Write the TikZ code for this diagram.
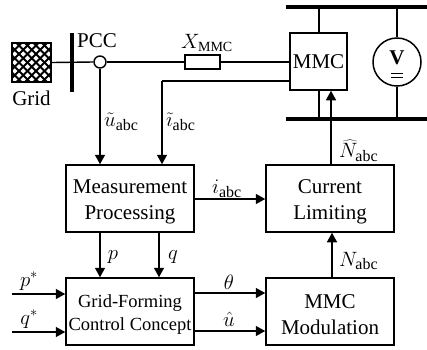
\documentclass[tikz,border=0pt]{standalone}
\usepackage{fontspec}
\setmainfont{Liberation Serif}
\usetikzlibrary{arrows.meta}
\newcommand{\sub}[1]{_{\textrm{\fontsize{16}{16}\selectfont #1}}}
\newcommand{\subsm}[1]{_{\textrm{\fontsize{14}{14}\selectfont #1}}}
\newcommand{\dn}{\rule{0pt}{20pt}}
\tikzset{
 x=1pt,y=-1pt,
 block/.style={draw,line width=1.5pt,inner sep=0pt,align=center,font=\fontsize{21}{26}\selectfont},
 wire/.style={line width=1.4pt},
 arr/.style={line width=1.4pt,-{Triangle[length=9.5pt,width=10pt]}},
 bar/.style={line width=4pt},
 lab/.style={inner sep=0pt,font=\fontsize{21}{22}\selectfont},
 mlab/.style={inner sep=0pt,font=\fontsize{22}{24}\selectfont},
}
\begin{document}
\begin{tikzpicture}
\useasboundingbox (0,0) rectangle (427,349);
% grid
\node[block,minimum width=39pt,minimum height=39pt] (grid) at (31.5,62.5) {};
\begin{scope}
\clip (12,43) rectangle (51,82);
\foreach \k in {-43,-34.5,...,60}{
  \draw[line width=2pt] (\k,43) -- ++(39,39);
  \draw[line width=2pt] (\k,82) -- ++(39,-39);
}
\end{scope}
\draw[line width=2.4pt] (12,43) rectangle (51,82);
\node[lab] (gridl) at (31.5,98) {Grid};
% buses
\coordinate (pcct) at (72,33); \coordinate (pccb) at (72,92);
\draw[bar] (pcct) -- (pccb);
\coordinate (tl) at (286,7); \coordinate (tr) at (427,7);
\coordinate (bl) at (286,119); \coordinate (br) at (427,119);
\draw[bar] (tl) -- (tr);
\draw[bar] (bl) -- (br);
\node[lab] (pccl) at (97,41) {PCC};
% elements
\node[draw,wire,fill=white,circle,minimum size=12pt,inner sep=0pt] (meas) at (100,62) {};
\node[draw,wire,minimum width=35pt,minimum height=14pt,inner sep=0pt] (res) at (202.5,62) {};
\node[mlab,anchor=west] (xl) at (181,43) {$X\subsm{MMC}$};
\node[block,minimum width=57pt,minimum height=57pt] (mmc) at (318.5,61.5) {MMC};
\node[draw,line width=1.5pt,circle,minimum size=48pt,inner sep=0pt] (v) at (397,62) {};
\node[inner sep=0pt,font=\fontsize{21}{21}\selectfont\bfseries] (vl) at (397,58) {V};
\coordinate (e1a) at (391,73); \coordinate (e1b) at (403,73);
\coordinate (e2a) at (391,77); \coordinate (e2b) at (403,77);
\draw[line width=1pt] (e1a) -- (e1b) (e2a) -- (e2b);
% blocks
\node[block,minimum width=128pt,minimum height=67pt] (mp) at (130,198.5) {\dn Measurement\\Processing};
\node[block,minimum width=128pt,minimum height=67pt] (cl) at (330,198.5) {\dn Current\\Limiting};
\node[block,minimum width=128pt,minimum height=67pt,font=\fontsize{18.5}{22.5}\selectfont] (gf) at (130,311.5) {\rule{0pt}{19pt}Grid-Forming\\Control Concept};
\node[block,minimum width=128pt,minimum height=67pt] (mm) at (330,311.5) {\dn MMC\\Modulation};
% wires
\draw[wire] (grid.east) -- (meas.west);
\draw[wire] (meas.east) -- (res.west);
\draw[wire] (res.east) -- (mmc.west |- res.east);
\draw[wire] (mmc.west |- 0,81) -- (162,81) coordinate (ic);
\draw[arr] (ic) -- (mp.north -| ic);
\draw[arr] (meas.south) -- (mp.north -| meas.south);
\draw[wire] (319,7) -- (mmc.north -| 319,7);
\draw[wire] (mmc.south -| 319,7) -- (319,119);
\draw[wire] (397,7) -- (v.north);
\draw[wire] (v.south) -- (397,119);
\draw[arr] (cl.north -| 331,0) -- (mmc.south -| 331,0);
\draw[arr] (mp.east |- 0,199) -- (cl.west |- 0,199);
\draw[arr] (mm.north -| 332,0) -- (cl.south -| 332,0);
\draw[arr] (mp.south -| 100,0) -- (gf.north -| 100,0);
\draw[arr] (mp.south -| 159,0) -- (gf.north -| 159,0);
\draw[arr] (gf.east |- 0,293) -- (mm.west |- 0,293);
\draw[arr] (gf.east |- 0,331) -- (mm.west |- 0,331);
\coordinate (ps) at (12,294); \coordinate (qs) at (12,332);
\draw[arr] (ps) -- (gf.west |- ps);
\draw[arr] (qs) -- (gf.west |- qs);
% labels
\node[mlab,anchor=west] (ul) at (104,122) {$\tilde u\sub{abc}$};
\node[mlab,anchor=west] (il) at (166,122) {$\tilde\imath\sub{abc}$};
\node[mlab,anchor=west] (nhl) at (339,151) {$\widehat N\sub{abc}$};
\node[mlab,anchor=west] (ial) at (212,189) {$i\sub{abc}$};
\node[mlab,anchor=west] (nl) at (339,261) {$N\sub{abc}$};
\node[mlab] (pl) at (113,257) {$p$};
\node[mlab] (ql) at (173,257) {$q$};
\node[mlab] (psl) at (29,281) {$p^*$};
\node[mlab] (qsl) at (29,319) {$q^*$};
\node[mlab] (tl2) at (229,282) {$\theta$};
\node[mlab] (ul2) at (229,319) {$\hat u$};
\end{tikzpicture}
\end{document}
